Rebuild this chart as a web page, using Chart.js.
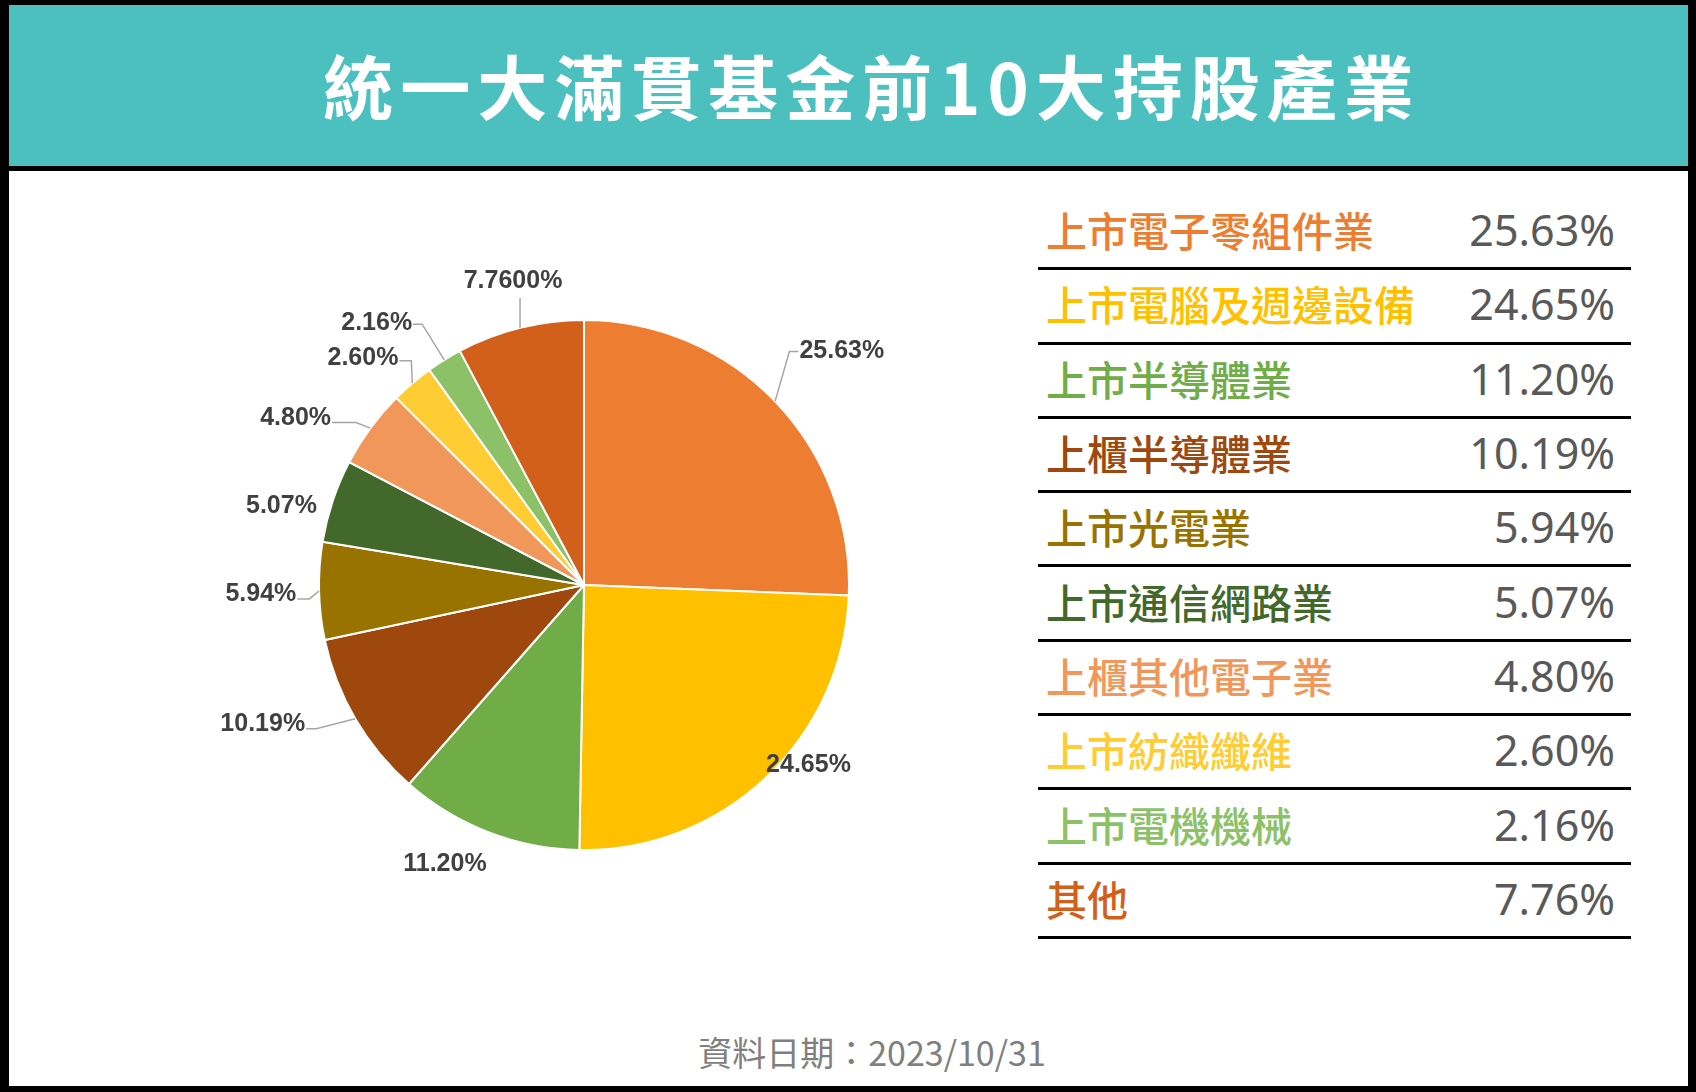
<!DOCTYPE html>
<html>
<head>
<meta charset="utf-8">
<script src="https://cdn.jsdelivr.net/npm/chart.js@4.4.0/dist/chart.umd.min.js"></script>
<style>
  body { margin:0; background:#fff; }
  #frame { position:relative; width:1696px; height:1092px; background:#000; overflow:hidden; font-family:"Noto Sans CJK TC", sans-serif; }
  #inner { position:absolute; left:9px; top:5px; right:8px; bottom:6px; background:#fff; }
  #header { position:absolute; left:9px; top:5px; right:8px; height:161px; background:#4CBFBF; }
  #headerLine { position:absolute; left:9px; right:8px; top:166px; height:5px; background:#000; }
  #title { position:absolute; left:872px; top:85px; transform:translate(-50%,-50%); white-space:nowrap;
           color:#fff; font-weight:bold; font-size:70px; line-height:1; letter-spacing:7px; }
  #pieWrap { position:absolute; left:184px; top:185px; width:800px; height:800px; }
  #legendTable { position:absolute; left:1038px; top:196px; width:593px; }
  .row { height:71.3px; border-bottom:3px solid #000; display:flex; align-items:center; justify-content:space-between; }
  .cat { padding-left:8px; padding-bottom:4px; font-size:41px; font-weight:500; line-height:1; }
  .val { padding-right:16px; padding-bottom:4px; font-family:"Noto Sans", sans-serif; font-size:43px; line-height:1; color:#595959; }
  #footer { position:absolute; left:872px; top:1052px; transform:translate(-50%,-50%); white-space:nowrap;
            color:#7F7F7F; font-size:34px; line-height:1; }
</style>
</head>
<body>
<div id="frame">
  <div id="inner"></div>
  <div id="header"></div>
  <div id="headerLine"></div>
  <div id="title">統一大滿貫基金前10大持股產業</div>
  <div id="pieWrap"><canvas id="pieChart"></canvas></div>
  <div id="legendTable"></div>
  <div id="footer">資料日期：2023/10/31</div>
</div>
<script>
const categories = ['上市電子零組件業', '上市電腦及週邊設備', '上市半導體業', '上櫃半導體業', '上市光電業',
                    '上市通信網路業', '上櫃其他電子業', '上市紡織纖維', '上市電機機械', '其他'];
const weights = [25.63, 24.65, 11.20, 10.19, 5.94, 5.07, 4.80, 2.60, 2.16, 7.76];
const pieLabels = ['25.63%', '24.65%', '11.20%', '10.19%', '5.94%', '5.07%', '4.80%', '2.60%', '2.16%', '7.7600%'];
const sliceColors = ['#ED7D31', '#FFC000', '#70AD47', '#9E480E', '#997300',
                     '#43682B', '#F1975A', '#FFCD33', '#8CC168', '#D2601A'];

// where each data label sits relative to its slice (extra radius, angle shift in degrees, leader line)
const labelLayout = [
  { dr:46, da:-4.8, lead:true,  hx:9,   ty:0,  align:'left' },
  { dr:22, da:-8.1, lead:false, ty:1, align:'center' },
  { dr:46, da:5.4,  lead:false, ty:1, align:'center' },
  { dr:39, da:2.1,  lead:true,  hx:-10, ty:-5, align:'right' },
  { dr:10, da:-1.6, lead:true,  hx:-12, ty:-5, align:'right' },
  { dr:48, da:-3.7, lead:false, ty:1, align:'center' },
  { dr:15, da:-0.8, lead:true,  hx:-24, ty:-4, align:'right' },
  { dr:18, da:2.8,  lead:true,  hx:-12, ty:-3, align:'right' },
  { dr:42, da:0,    lead:true,  hx:-9,  ty:-1, align:'right' },
  { dr:29, da:1.4,  lead:true,  hx:0, tx:-7, ty:-17, align:'center' }
];

// legend table
const table = document.getElementById('legendTable');
table.innerHTML = categories.map((c, i) => `
  <div class="row">
    <div class="cat" style="color:${sliceColors[i]}">${c}</div>
    <div class="val">${weights[i].toFixed(2)}%</div>
  </div>`).join('');

const pieLabelPlugin = {
  id: 'pieLabels',
  afterDatasetsDraw(chart) {
    const ctx = chart.ctx;
    const meta = chart.getDatasetMeta(0);
    ctx.save();
    ctx.font = 'bold 25px "Liberation Sans", Arial, sans-serif';
    ctx.textBaseline = 'middle';
    meta.data.forEach((arc, i) => {
      const p = arc.getProps(['x', 'y', 'startAngle', 'endAngle', 'outerRadius'], true);
      const L = labelLayout[i];
      const mid = (p.startAngle + p.endAngle) / 2;
      const a = mid + L.da * Math.PI / 180;
      const ex = p.x + (p.outerRadius + L.dr) * Math.cos(a);
      const ey = p.y + (p.outerRadius + L.dr) * Math.sin(a);
      const hx = L.hx || 0;
      if (L.lead) {
        ctx.strokeStyle = '#A6A6A6';
        ctx.lineWidth = 1.5;
        ctx.beginPath();
        ctx.moveTo(p.x + p.outerRadius * Math.cos(mid), p.y + p.outerRadius * Math.sin(mid));
        ctx.lineTo(ex, ey);
        if (hx) ctx.lineTo(ex + hx, ey);
        ctx.stroke();
      }
      const gap = L.tx !== undefined ? L.tx : (L.align === 'left' ? 1 : L.align === 'right' ? -1 : 0);
      ctx.fillStyle = '#404040';
      ctx.textAlign = L.align;
      ctx.fillText(pieLabels[i], ex + hx + gap, ey + (L.ty || 0));
    });
    ctx.restore();
  }
};

new Chart(document.getElementById('pieChart'), {
  type: 'pie',
  data: {
    labels: categories,
    datasets: [{
      data: weights,
      backgroundColor: sliceColors,
      borderColor: '#fff',
      borderWidth: 2,
      hoverOffset: 0,
      radius: 265
    }]
  },
  options: {
    responsive: true, maintainAspectRatio: false,
    animation: false,
    layout: { padding: 0 },
    plugins: { legend: { display: false }, tooltip: { enabled: false } }
  },
  plugins: [pieLabelPlugin]
});
</script>
</body>
</html>
